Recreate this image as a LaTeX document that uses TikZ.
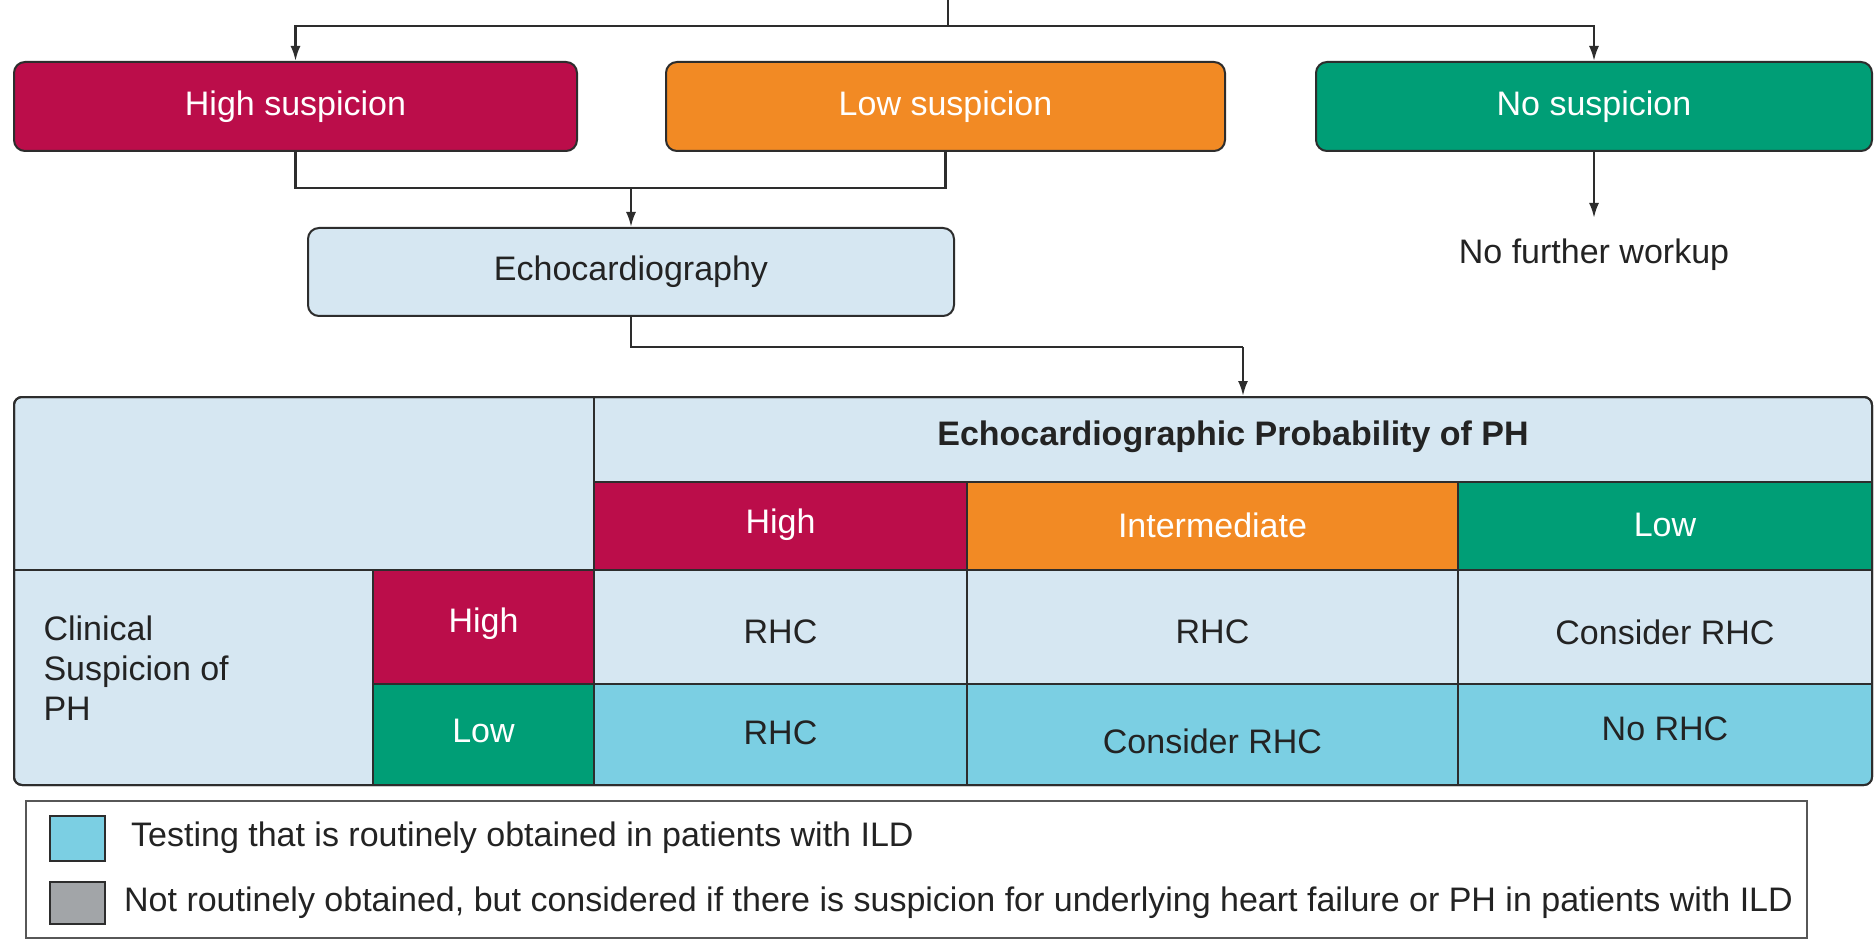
\documentclass[tikz,border=0pt]{standalone}
\usepackage{fontspec}
\setmainfont{Liberation Sans}
\usetikzlibrary{arrows.meta}
\definecolor{crim}{RGB}{187,13,74}
\definecolor{orng}{RGB}{242,138,36}
\definecolor{grn}{RGB}{0,158,118}
\definecolor{lblue}{RGB}{214,231,242}
\definecolor{cyanc}{RGB}{123,207,227}
\definecolor{grayc}{RGB}{162,165,168}
\definecolor{linec}{RGB}{45,45,45}
\definecolor{txt}{RGB}{35,35,35}
\tikzset{
  every node/.style={font=\fontsize{34}{40}\selectfont, text=txt},
  fbox/.style={draw=linec, line width=2pt, rounded corners=11pt, inner sep=0pt, text=white},
  cell/.style={inner sep=0pt, anchor=north west},
  conn/.style={draw=linec, line width=2.4pt},
  arr/.style={conn, -{Latex[length=15pt,width=10pt]}},
  gridl/.style={draw=linec, line width=2pt},
}
\begin{document}
\begin{tikzpicture}[x=1pt,y=-1pt]
\useasboundingbox (0,0) rectangle (1874,941);
\fill[white] (0,0) rectangle (1874,941);
% top boxes
\node[fbox, fill=crim, minimum width=563pt, minimum height=89pt] (hs) at (295.5,106.5) {High suspicion};
\node[fbox, fill=orng, minimum width=559pt, minimum height=89pt] (ls) at (945.5,106.5) {Low suspicion};
\node[fbox, fill=grn, minimum width=556pt, minimum height=89pt] (ns) at (1594,106.5) {No suspicion};
\node[fbox, fill=lblue, text=txt, minimum width=646pt, minimum height=88pt] (echo) at (631,272) {Echocardiography};
\node[inner ysep=21pt] (nfw) at (1594,255) {No further workup};
% connectors top
\coordinate (top) at (948,0);
\coordinate (split) at (948,26);
\draw[conn] (top) -- (split);
\draw[arr] (split) -| (hs.north);
\draw[arr] (split) -| (ns.north);
\coordinate (mg) at (631,188);
\draw[conn] (hs.south) |- (mg);
\draw[conn] (ls.south) |- (mg);
\draw[arr] (mg) -- (echo.north);
\draw[arr] (ns.south) -- (nfw.north);
% table
\node[draw=linec, line width=2pt, rounded corners=8pt, minimum width=1858pt, minimum height=388pt, inner sep=0pt, fill=lblue] (tbl) at (943,591) {};
\coordinate (ej) at (1243,347);
\draw[conn] (echo.south) |- (ej);
\draw[arr] (ej) -- (ej |- tbl.north);
\begin{scope}
\clip[rounded corners=8pt] (14,397) rectangle (1872,785);
\node[cell, fill=crim, minimum width=373pt, minimum height=88pt] (eh) at (594,482) {};
\node[text=white] (ehT) at (780.5,525) {High};
\node[cell, fill=orng, minimum width=491pt, minimum height=88pt] (ei) at (967,482) {};
\node[text=white] (eiT) at (1212.5,525) {Intermediate};
\node[cell, fill=grn, minimum width=414pt, minimum height=88pt] (el) at (1458,482) {};
\node[text=white] (elT) at (1665,525) {Low};
\node[cell, fill=crim, minimum width=221pt, minimum height=114pt] (ch) at (373,570) {};
\node[text=white] (chT) at (483.5,624) {High};
\node[cell, fill=grn, minimum width=221pt, minimum height=101pt] (cl) at (373,684) {};
\node[text=white] (clT) at (483.5,731) {Low};
\node[cell, fill=cyanc, minimum width=1278pt, minimum height=101pt] (row2) at (594,684) {};
\end{scope}
\node (tt) at (1233,437) {\bfseries Echocardiographic Probability of PH};
\node[align=left, anchor=north west] (clin) at (40,612) {Clinical\\Suspicion of\\PH};
\node (r11) at (780.5,632) {RHC};
\node (r12) at (1212.5,632) {RHC};
\node (r13) at (1665,632) {Consider RHC};
\node (r21) at (780.5,733) {RHC};
\node (r22) at (1212.5,741) {Consider RHC};
\node (r23) at (1665,729) {No RHC};
% grid lines
\draw[gridl] (594,482) -- (1872,482);
\draw[gridl] (14,570) -- (1872,570);
\draw[gridl] (373,684) -- (1872,684);
\draw[gridl] (594,397) -- (594,785);
\draw[gridl] (373,570) -- (373,785);
\draw[gridl] (967,482) -- (967,785);
\draw[gridl] (1458,482) -- (1458,785);
\draw[draw=linec, line width=2pt, rounded corners=8pt] (14,397) rectangle (1872,785);
% legend
\node[draw=linec!80, line width=2pt, minimum width=1781pt, minimum height=137pt, inner sep=0pt] (leg) at (916.5,869.5) {};
\node[draw=linec, line width=2pt, fill=cyanc, minimum width=55pt, minimum height=45pt, inner sep=0pt] (sw1) at (77.5,838.5) {};
\node[draw=linec, line width=2pt, fill=grayc, minimum width=55pt, minimum height=42pt, inner sep=0pt] (sw2) at (77.5,903) {};
\node[anchor=west, inner sep=0pt] (lt1) at (131,838) {Testing that is routinely obtained in patients with ILD};
\node[anchor=west, inner sep=0pt] (lt2) at (124,903) {Not routinely obtained, but considered if there is suspicion for underlying heart failure or PH in patients with ILD};
\end{tikzpicture}
\end{document}
